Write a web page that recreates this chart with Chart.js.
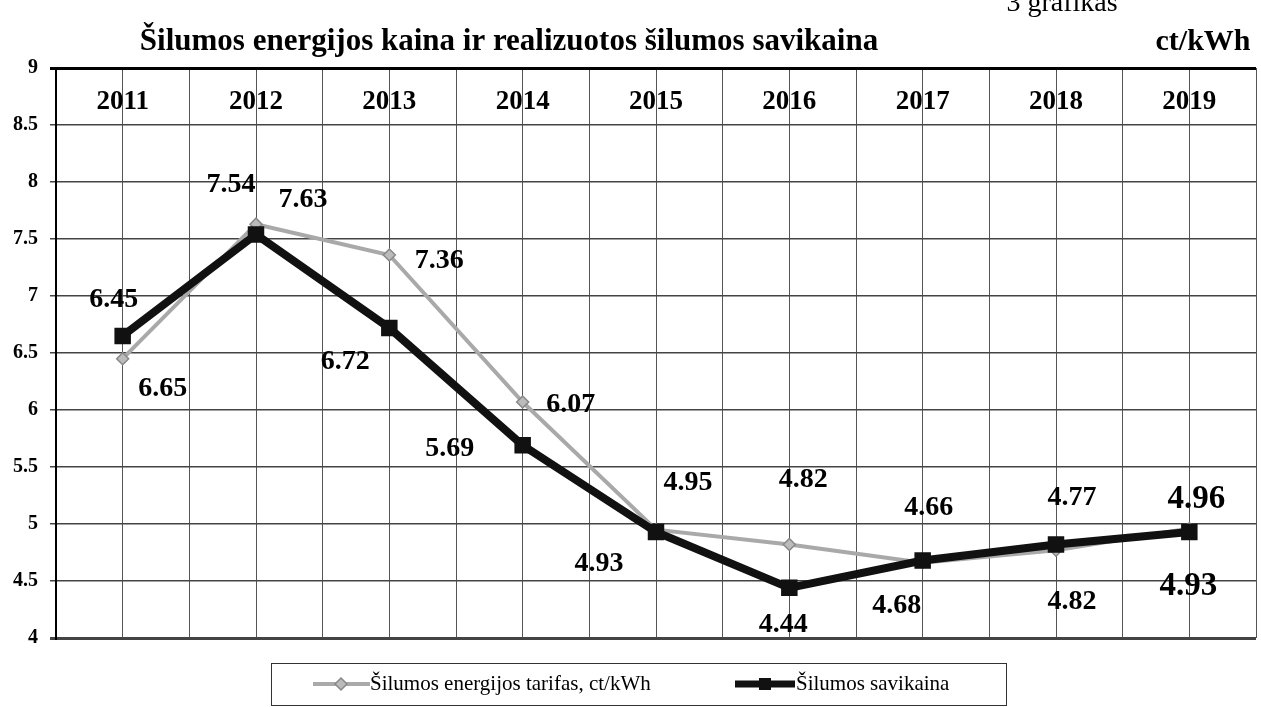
<!DOCTYPE html>
<html>
<head>
<meta charset="utf-8">
<script src="https://cdn.jsdelivr.net/npm/chart.js@4.4.1/dist/chart.umd.min.js"></script>
<style>
html, body { margin: 0; padding: 0; background: #fff; overflow: hidden; }
#wrap { position: relative; width: 1270px; height: 707px; }
</style>
</head>
<body>
<div id="wrap"><canvas id="kaina"></canvas></div>
<script>
// data
const years = ['2011', '2012', '2013', '2014', '2015', '2016', '2017', '2018', '2019'];
const tariff = [6.45, 7.63, 7.36, 6.07, 4.95, 4.82, 4.66, 4.77, 4.96];
const cost = [6.65, 7.54, 6.72, 5.69, 4.93, 4.44, 4.68, 4.82, 4.93];
const yMin = 4, yMax = 9, yStep = 0.5;
const tariffName = 'Šilumos energijos tarifas, ct/kWh';
const costName = 'Šilumos savikaina';

// where each value label sits relative to its point (the original places them by hand)
const tariffShift = [[-9,-59],[47,-24],[50,6],[48,3],[32,-47],[14,-65],[6,-55],[16,-52],[7,-29]];
const costShift = [[40,53],[-25,-50],[-44,34],[-73,3],[-57,32],[-6,37],[-26,45],[16,57],[-1,54]];

const SERIF = '"Liberation Serif", "DejaVu Serif", serif';

const decor = {
  id: 'decor',
  afterDatasetsDraw(chart) {
    const { ctx, scales: { x, y } } = chart;
    ctx.save();
    ctx.fillStyle = '#000';
    ctx.textAlign = 'center';
    ctx.textBaseline = 'middle';

    // year labels inside the plot, near the top
    ctx.font = 'bold 27px ' + SERIF;
    years.forEach((yr, i) => ctx.fillText(yr, x.getPixelForValue(i), y.getPixelForValue(8.70)));

    // value labels
    const sets = [[0, tariff, tariffShift], [1, cost, costShift]];
    sets.forEach(([di, vals, shift]) => {
      const meta = chart.getDatasetMeta(di);
      vals.forEach((v, i) => {
        const p = meta.data[i];
        ctx.font = 'bold ' + (i === vals.length - 1 ? 33 : 28) + 'px ' + SERIF;
        ctx.fillText(v.toFixed(2), p.x + shift[i][0], p.y + shift[i][1]);
      });
    });

    // title, unit and figure number
    ctx.font = 'bold 31px ' + SERIF;
    ctx.fillText('Šilumos energijos kaina ir realizuotos šilumos savikaina', 509, 42);
    ctx.font = 'bold 30px ' + SERIF;
    ctx.fillText('ct/kWh', 1203, 42);
    ctx.font = '28px ' + SERIF;
    ctx.fillText('3 grafikas', 1062, 4);

    // legend box
    ctx.strokeStyle = '#333';
    ctx.lineWidth = 1;
    ctx.strokeRect(271.5, 663.5, 735, 42);
    const ly = 684;
    ctx.lineCap = 'butt';
    ctx.strokeStyle = '#aaa';
    ctx.lineWidth = 4;
    ctx.beginPath(); ctx.moveTo(313, ly); ctx.lineTo(370, ly); ctx.stroke();
    ctx.fillStyle = '#bbb';
    ctx.strokeStyle = '#888';
    ctx.lineWidth = 1.5;
    ctx.beginPath();
    ctx.moveTo(341, ly - 6); ctx.lineTo(347, ly); ctx.lineTo(341, ly + 6); ctx.lineTo(335, ly);
    ctx.closePath(); ctx.fill(); ctx.stroke();
    ctx.strokeStyle = '#111';
    ctx.lineWidth = 7;
    ctx.beginPath(); ctx.moveTo(735, ly); ctx.lineTo(795, ly); ctx.stroke();
    ctx.fillStyle = '#111';
    ctx.fillRect(759, ly - 6, 12, 12);

    ctx.fillStyle = '#000';
    ctx.textAlign = 'left';
    ctx.font = '21px ' + SERIF;
    ctx.fillText(tariffName, 370, ly);
    ctx.fillText(costName, 796, ly);
    ctx.restore();
  }
};

new Chart(document.getElementById('kaina'), {
  type: 'line',
  data: {
    datasets: [{
      label: tariffName,
      data: tariff.map((v, i) => ({ x: i, y: v })),
      borderColor: '#a9a9a9',
      borderWidth: 4,
      pointStyle: 'rectRot',
      pointRadius: 6,
      pointBackgroundColor: '#bbb',
      pointBorderColor: '#888',
      pointBorderWidth: 1.5,
      order: 1
    }, {
      label: costName,
      data: cost.map((v, i) => ({ x: i, y: v })),
      borderColor: '#111',
      borderWidth: 8,
      pointStyle: 'rect',
      pointRadius: 6,
      pointBackgroundColor: '#111',
      pointBorderColor: '#111',
      order: 0
    }]
  },
  options: {
    responsive: true,
    maintainAspectRatio: false,
    animation: false,
    layout: { padding: { top: 68, bottom: 69, left: 0, right: 2 } },
    plugins: { legend: { display: false }, tooltip: { enabled: false } },
    scales: {
      x: {
        type: 'linear',
        min: -0.5,
        max: years.length - 0.5,
        afterFit: s => { s.height = 0; },
        ticks: { display: false, stepSize: 0.5 },
        grid: { color: '#555', lineWidth: 1, drawTicks: false },
        border: { display: false }
      },
      y: {
        min: yMin,
        max: yMax,
        afterFit: s => { s.width = 56; },
        ticks: {
          stepSize: yStep,
          color: '#000',
          padding: 12,
          font: { family: SERIF, weight: 'bold', size: 20 },
          callback: v => String(v)
        },
        grid: {
          color: c => (c.tick && (c.tick.value === yMax) ? '#000' : '#444'),
          lineWidth: c => (c.tick && (c.tick.value === yMax || c.tick.value === yMin) ? 3 : 1.5),
          tickLength: 6
        },
        border: { color: '#000', width: 2 }
      }
    }
  },
  plugins: [decor]
});
</script>
</body>
</html>
